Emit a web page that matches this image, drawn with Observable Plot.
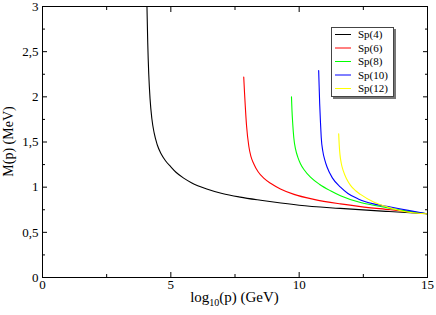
<!DOCTYPE html>
<html><head><meta charset="utf-8">
<script src="https://cdn.jsdelivr.net/npm/d3@7"></script>
<script src="https://cdn.jsdelivr.net/npm/@observablehq/plot@0.6"></script>
<style>
body{margin:0;background:#fff}
#chart{position:relative;width:436px;height:315px}
</style>
</head><body><div id="chart"></div>
<script>
const seriesNames = ["Sp(4)","Sp(6)","Sp(8)","Sp(10)","Sp(12)"];
const seriesColors = ["#000000","#ff0000","#00ff00","#0000ff","#ffff00"];

const sp4 = [[4.07,3.0],[4.10,2.6],[4.14,2.25],[4.19,1.98],[4.26,1.76],[4.35,1.60],[4.47,1.47],[4.62,1.37],[4.8,1.29],[5.0,1.225],[5.2,1.165],[5.5,1.10],[5.8,1.05],[6.4,0.98],[7.0,0.93],[7.7,0.89],[8.5,0.855],[9.0,0.835],[10.0,0.80],[11.6,0.765],[13.5,0.73],[15,0.705]];
const sp6 = [[7.84,2.22],[7.87,2.05],[7.9,1.9],[7.95,1.68],[8.04,1.45],[8.12,1.34],[8.23,1.26],[8.4,1.17],[8.62,1.10],[8.9,1.04],[9.27,0.98],[9.8,0.92],[10.57,0.865],[11.61,0.815],[12.39,0.785],[13.56,0.75],[14.3,0.727],[15,0.705]];
const sp8 = [[9.70,2.0],[9.72,1.85],[9.75,1.7],[9.79,1.55],[9.86,1.42],[9.95,1.33],[10.05,1.26],[10.2,1.19],[10.44,1.11],[10.8,1.03],[11.22,0.96],[11.61,0.905],[12.39,0.83],[12.9,0.80],[13.56,0.765],[14.2,0.735],[15,0.705]];
const sp10 = [[10.76,2.29],[10.78,2.1],[10.80,1.92],[10.83,1.72],[10.86,1.55],[10.92,1.40],[11.0,1.30],[11.09,1.22],[11.3,1.10],[11.61,1.0],[11.9,0.93],[12.3,0.87],[12.9,0.815],[13.56,0.78],[14.3,0.74],[15,0.705]];
const sp12 = [[11.54,1.59],[11.56,1.47],[11.59,1.36],[11.64,1.265],[11.72,1.18],[11.85,1.09],[12.0,1.02],[12.2,0.96],[12.39,0.92],[12.9,0.835],[13.5,0.775],[14.2,0.725],[15,0.705]];
const seriesData = [sp4, sp6, sp8, sp10, sp12];

const xTicks = [0,5,10,15];
const xMinor = [2.5,7.5,12.5];
const yTicks = [0,0.5,1,1.5,2,2.5,3];
const yMinor = [0.25,0.75,1.25,1.75,2.25,2.75];
const xLabel = ["log","10","(p) (GeV)"];
const yLabel = "M(p) (MeV)";

const rows = seriesData.flatMap((pts, i) => pts.map(([x, y]) => ({series: seriesNames[i], x, y})));
const fmt = d => String(d).replace(".", ",");
const W = 436, H = 315, ML = 42, MR = 9, MT = 6, MB = 38;

const svg = Plot.plot({
  width: W, height: H,
  marginLeft: ML, marginRight: MR, marginTop: MT, marginBottom: MB,
  style: {fontFamily: "'Liberation Serif', 'Times New Roman', serif", fontSize: "13px", color: "#000", background: "#fff"},
  x: {domain: [0, 15]},
  y: {domain: [0, 3]},
  color: {domain: seriesNames, range: seriesColors},
  marks: [
    Plot.line(rows, {x: "x", y: "y", z: "series", stroke: "series", strokeWidth: 1.1, curve: "monotone-x", clip: true}),
    Plot.axisX(xTicks, {anchor: "bottom", tickSize: -5, text: null, label: null}),
    Plot.axisX(xTicks, {anchor: "top", tickSize: -5, text: null, label: null}),
    Plot.axisX(xMinor, {anchor: "bottom", tickSize: -3, text: null, label: null}),
    Plot.axisX(xMinor, {anchor: "top", tickSize: -3, text: null, label: null}),
    Plot.axisY(yTicks, {anchor: "left", tickSize: -5, text: null, label: null}),
    Plot.axisY(yTicks, {anchor: "right", tickSize: -5, text: null, label: null}),
    Plot.axisY(yMinor, {anchor: "left", tickSize: -3, text: null, label: null}),
    Plot.axisY(yMinor, {anchor: "right", tickSize: -3, text: null, label: null}),
    Plot.axisX(xTicks, {anchor: "bottom", tickSize: 0, tickPadding: 2, tickFormat: fmt, label: null, fontSize: 13}),
    Plot.axisY(yTicks, {anchor: "left", tickSize: 0, tickPadding: 4, tickFormat: fmt, label: null, fontSize: 13}),
    Plot.frame({stroke: "#000", strokeWidth: 1})
  ]
});

const s = d3.select(svg);
// x axis title with subscript
const xt = s.append("text")
  .attr("x", (ML + W - MR) / 2).attr("y", 302)
  .attr("text-anchor", "middle").attr("font-size", 15).attr("fill", "#000");
xt.append("tspan").text(xLabel[0]);
xt.append("tspan").attr("font-size", 10).attr("dy", 4).text(xLabel[1]);
xt.append("tspan").attr("dy", -4).text(xLabel[2]);
// y axis title
s.append("text")
  .attr("transform", `translate(13,${(MT + H - MB) / 2}) rotate(-90)`)
  .attr("text-anchor", "middle").attr("font-size", 14).attr("fill", "#000")
  .text(yLabel);

// legend
const lg = s.append("g").attr("transform", "translate(331,27)");
lg.append("rect").attr("x", 2).attr("y", 2).attr("width", 63).attr("height", 70).attr("fill", "#777");
lg.append("rect").attr("x", 0.5).attr("y", 0.5).attr("width", 62).attr("height", 69).attr("fill", "#fff").attr("stroke", "#444");
seriesNames.forEach((name, i) => {
  const yy = 7.5 + i * 13.5;
  lg.append("line").attr("x1", 4).attr("x2", 20).attr("y1", yy).attr("y2", yy).attr("stroke", seriesColors[i]).attr("stroke-width", 1);
  lg.append("text").attr("x", 27).attr("y", yy).attr("dy", "0.35em").attr("text-anchor", "start").attr("font-size", 11).attr("fill", "#000").text(name);
});

document.getElementById("chart").appendChild(svg);
</script>
</body></html>
